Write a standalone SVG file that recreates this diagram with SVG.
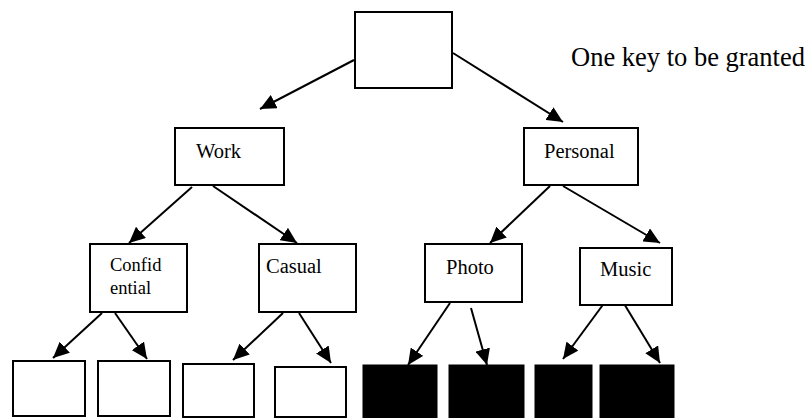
<svg xmlns="http://www.w3.org/2000/svg" width="807" height="418" viewBox="0 0 807 418">
<style>
.box{fill:#fff;stroke:#000;stroke-width:2}
.blk{fill:#000;stroke:#000;stroke-width:1}
.t{font-family:"Liberation Serif","Times New Roman",serif;font-size:20.5px;fill:#000}
.c{stroke:#000;stroke-width:2;fill:none;marker-end:url(#ah)}
</style>
<defs>
<marker id="ah" markerUnits="userSpaceOnUse" markerWidth="17" markerHeight="15" refX="16" refY="7.5" orient="auto" viewBox="0 0 17 15">
<path d="M0,0 L16,7.5 L0,15 z" fill="#000"/>
</marker>
</defs>
<rect width="807" height="418" fill="#fff"/>
<g id="connectors">
<line class="c" x1="354" y1="60" x2="260" y2="109"/>
<line class="c" x1="453" y1="53" x2="563" y2="122"/>
<line class="c" x1="192" y1="187" x2="129" y2="243"/>
<line class="c" x1="213" y1="186" x2="297" y2="243"/>
<line class="c" x1="550" y1="186" x2="490" y2="243"/>
<line class="c" x1="563" y1="186" x2="660" y2="243"/>
<line class="c" x1="102" y1="313" x2="53" y2="358"/>
<line class="c" x1="115" y1="313" x2="147" y2="359"/>
<line class="c" x1="283" y1="313" x2="233" y2="360"/>
<line class="c" x1="299" y1="313" x2="331" y2="363"/>
<line class="c" x1="450" y1="303" x2="408" y2="365"/>
<line class="c" x1="471" y1="308" x2="487" y2="365"/>
<line class="c" x1="605" y1="302" x2="563" y2="359"/>
<line class="c" x1="623" y1="302" x2="660" y2="363"/>
</g>
<g id="root"><rect class="box" x="355" y="12" width="97" height="76"/></g>
<g id="work"><rect class="box" x="175" y="128" width="109" height="57"/><text class="t" x="196" y="158">Work</text></g>
<g id="personal"><rect class="box" x="524" y="128" width="114" height="57"/><text class="t" x="544" y="158">Personal</text></g>
<g id="confidential"><rect class="box" x="90" y="244" width="97" height="68"/><text class="t" x="110" y="271" style="font-size:18.5px">Confid</text><text class="t" x="110" y="294" style="font-size:18.5px">ential</text></g>
<g id="casual"><rect class="box" x="259" y="244" width="97" height="68"/><text class="t" x="266" y="273">Casual</text></g>
<g id="photo"><rect class="box" x="425" y="244" width="97" height="58"/><text class="t" x="446" y="274">Photo</text></g>
<g id="music"><rect class="box" x="580" y="248" width="92" height="57"/><text class="t" x="600" y="276">Music</text></g>
<g id="leaf1"><rect class="box" x="13" y="361" width="72" height="55"/></g>
<g id="leaf2"><rect class="box" x="98" y="361" width="72" height="55"/></g>
<g id="leaf3"><rect class="box" x="183" y="364" width="71" height="53"/></g>
<g id="leaf4"><rect class="box" x="275" y="367" width="71" height="50"/></g>
<g id="leaf5"><rect class="blk" x="363" y="365" width="74" height="53"/></g>
<g id="leaf6"><rect class="blk" x="449" y="365" width="75" height="53"/></g>
<g id="leaf7"><rect class="blk" x="535" y="365" width="57" height="53"/></g>
<g id="leaf8"><rect class="blk" x="600" y="365" width="74" height="53"/></g>
<g id="label"><text class="t" x="571" y="66" style="font-size:26.5px">One key to be granted</text></g>
</svg>
